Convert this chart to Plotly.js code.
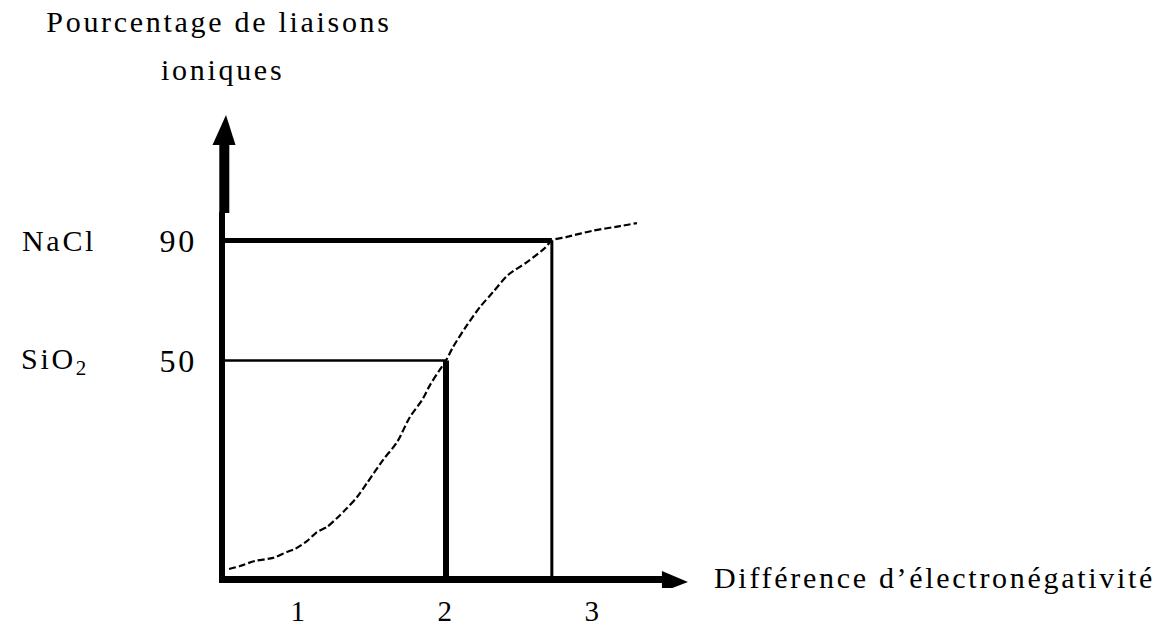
<!DOCTYPE html>
<html><head><meta charset="utf-8">
<script src="https://cdn.plot.ly/plotly-3.0.1.min.js"></script>
<style>
html,body{margin:0;padding:0;background:#fff;}
#chart{width:1170px;height:628px;}
text{letter-spacing:2.7px;}
</style></head><body><div id="chart"></div>
<script>
// ---- data ----
const curveDiff = [0.524,0.599,0.701,0.823,0.918,0.973,1.054,1.122,1.190,1.259,1.327,1.395,1.463,1.571,1.667,1.755,1.837,1.891,1.952,2.0,2.048,2.143,2.231,2.320,2.422,2.551,2.673,2.72,2.823,2.993,3.184,3.299];
const curvePct  = [-19.5,-18.5,-16.8,-15.8,-13.8,-12.8,-10.2,-7.2,-5.5,-2.5,0.8,4.5,9.2,16.8,22.8,31.2,36.8,41.8,46.5,50,54.5,61.8,67.8,72.8,78.5,82.8,87.5,90,91.2,93.2,94.8,95.8];
const compounds = ['NaCl', 'SiO<sub>2</sub>'];
const compoundDiff = [2.72, 2.0];
const compoundPct = [90, 50];
const xTickVals = [1, 2, 3];
const xTickText = ['1', '2', '3'];
const yTickVals = [50, 90];
const yTickText = ['50', '90'];

// ---- layout geometry / styles ----
const FONT = 'Liberation Serif, Times New Roman, serif';
const X_RANGE = [0.4082, 3.7279], Y_RANGE = [-25.833, 135.167];
const AX_X0 = 0.4762, AX_Y0 = -23, X_TIP = 3.646, Y_TIP = 131.83;
const HOR_W = [5, 2.5], VER_W = [3, 6];

const traces = [];
compounds.forEach((c, i) => {
  traces.push({x:[AX_X0, compoundDiff[i]], y:[compoundPct[i], compoundPct[i]], mode:'lines',
    line:{color:'#000', width:HOR_W[i]}, hoverinfo:'skip', showlegend:false, name:c});
  traces.push({x:[compoundDiff[i], compoundDiff[i]], y:[compoundPct[i], AX_Y0], mode:'lines',
    line:{color:'#000', width:VER_W[i]}, hoverinfo:'skip', showlegend:false, name:c});
});
traces.push({x:curveDiff, y:curvePct, mode:'lines',
  line:{color:'#000', width:2.2, dash:'7px,3px', shape:'spline', smoothing:0.8},
  hoverinfo:'skip', showlegend:false, name:'courbe'});

const black = '#000';
const shapes = [
  {type:'line', xref:'x', yref:'y', x0:0.4558, x1:3.476, y0:AX_Y0, y1:AX_Y0, line:{color:black, width:7}},
  {type:'line', xref:'x', yref:'y', x0:AX_X0, x1:AX_X0, y0:-24.17, y1:99.6, line:{color:black, width:6}},
  {type:'line', xref:'x', yref:'y', xsizemode:'pixel', xanchor:AX_X0, x0:2.3, x1:2.3, y0:99.17, y1:121.9, line:{color:black, width:10}},
  {type:'path', xref:'x', yref:'y', xsizemode:'pixel', ysizemode:'pixel', xanchor:X_TIP, yanchor:AX_Y0,
   path:'M0,-2.5 L-26,8.5 L-26,-12.5 Z', fillcolor:black, line:{width:0}},
  {type:'path', xref:'x', yref:'y', xsizemode:'pixel', ysizemode:'pixel', xanchor:AX_X0, yanchor:Y_TIP,
   path:'M4,0 L-9.5,-30 L13.5,-30 Z', fillcolor:black, line:{width:0}}
];

const annotations = [
  {text:'ioniques', xref:'paper', yref:'paper', x:0.0205, y:1.0725, xanchor:'center', yanchor:'middle', showarrow:false,
   font:{family:FONT, size:30, color:black}},
  {text:'Différence d’électronégativité', xref:'x', yref:'y', x:X_TIP, y:AX_Y0, xshift:24, yshift:2,
   xanchor:'left', yanchor:'middle', showarrow:false, font:{family:FONT, size:30, color:black}},
  {text:compounds[0], xref:'paper', yref:'y', x:-0.3933, y:compoundPct[0], xanchor:'left', yanchor:'middle', showarrow:false,
   font:{family:FONT, size:30, color:black}},
  {text:compounds[1], xref:'paper', yref:'y', x:-0.3953, y:compoundPct[1], xanchor:'left', yanchor:'middle', showarrow:false,
   font:{family:FONT, size:30, color:black}}
];

const layout = {
  width:1170, height:628,
  margin:{l:212, r:470, t:105, b:40, pad:0},
  paper_bgcolor:'#fff', plot_bgcolor:'#fff',
  title:{text:'Pourcentage de liaisons', x:219/1170, xref:'container', xanchor:'center',
         y:1-21.5/628, yref:'container', yanchor:'middle', font:{family:FONT, size:30, color:black}},
  xaxis:{range:X_RANGE, showgrid:false, zeroline:false, showline:false, ticks:'', ticklen:0,
         tickvals:xTickVals, ticktext:xTickText, ticklabelstandoff:3,
         tickfont:{family:FONT, size:29, color:black}, fixedrange:true},
  yaxis:{range:Y_RANGE, showgrid:false, zeroline:false, showline:false, ticks:'', ticklen:0,
         tickvals:yTickVals, ticktext:yTickText, ticklabelstandoff:14,
         tickfont:{family:FONT, size:32, color:black}, fixedrange:true},
  shapes:shapes, annotations:annotations, showlegend:false
};
Plotly.newPlot('chart', traces, layout, {staticPlot:true, displayModeBar:false});
</script></body></html>
